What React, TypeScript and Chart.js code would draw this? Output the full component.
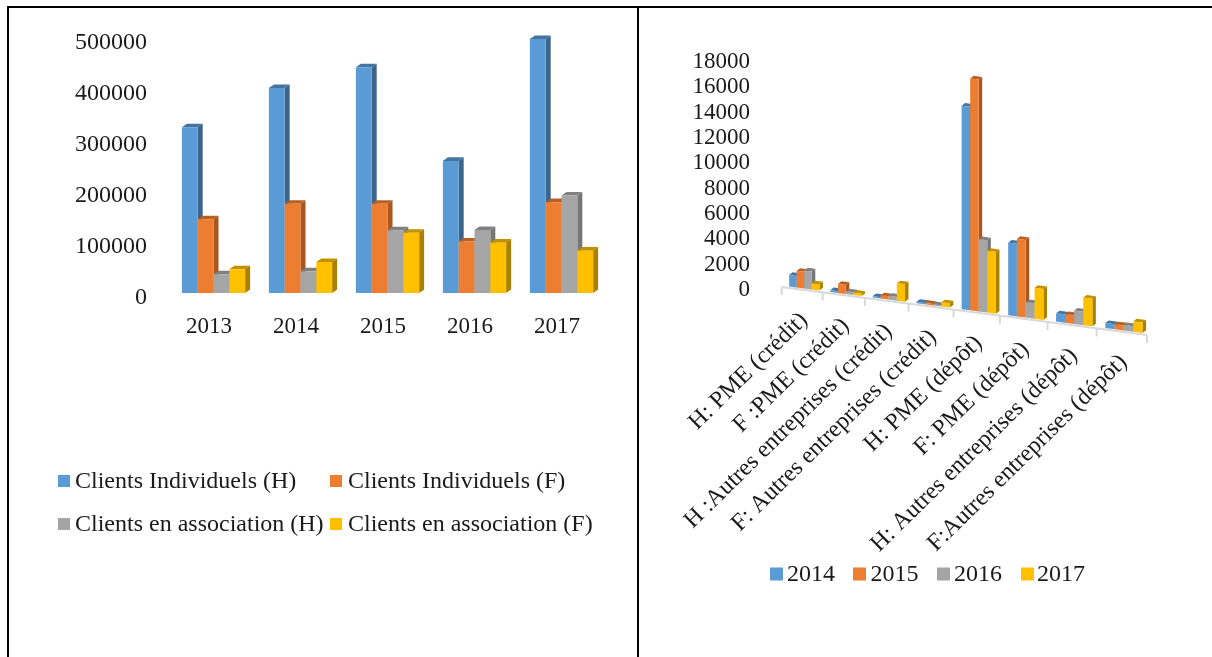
import React, { useEffect, useRef } from "react";
import { Chart, registerables } from "chart.js";

Chart.register(...registerables);

const FONT = "'Liberation Serif', 'Times New Roman', serif";
const TEXT = "#1a1a1a";

const BLUE = "#5b9bd5";
const ORANGE = "#ed7d31";
const GRAY = "#a5a5a5";
const YELLOW = "#ffc000";
const SIDES: Record<string, string> = { [BLUE]: "#3d658c", [ORANGE]: "#a9571f", [GRAY]: "#767676", [YELLOW]: "#a98000" };
const TOPS: Record<string, string> = { [BLUE]: "#44749f", [ORANGE]: "#b85f24", [GRAY]: "#808080", [YELLOW]: "#c29100" };

const leftYears = ["2013", "2014", "2015", "2016", "2017"];
const leftIndivH = [325000, 402000, 442500, 259000, 498000];
const leftIndivF = [144500, 175000, 175000, 101000, 178000];
const leftAssocH = [36700, 42500, 123000, 123500, 191000];
const leftAssocF = [46500, 60800, 118000, 98600, 83000];
const leftSeriesNames = [
  "Clients Individuels (H)",
  "Clients Individuels (F)",
  "Clients en association (H)",
  "Clients en association (F)",
];

const rightCategories = [
  "H: PME (crédit)",
  "F :PME (crédit)",
  "H :Autres entreprises (crédit)",
  "F: Autres entreprises (crédit)",
  "H: PME (dépôt)",
  "F: PME (dépôt)",
  "H: Autres entreprises (dépôt)",
  "F:Autres entreprises (dépôt)",
];
const right2014 = [909, 130, 100, 100, 14100, 4900, 540, 320];
const right2015 = [1300, 680, 240, 100, 15980, 5200, 560, 320];
const right2016 = [1400, 200, 270, 80, 4950, 1030, 870, 340];
const right2017 = [466, 170, 1260, 300, 4200, 2050, 1780, 650];
const rightSeriesNames = ["2014", "2015", "2016", "2017"];

type Mapper = (x: number, area: any) => { x: number; base: number; scale: number };

function drawBox(ctx: any, x1: any, x2: any, dx: number, dy: number, color: string) {
  ctx.fillStyle = TOPS[color];
  ctx.beginPath();
  ctx.moveTo(x1.x, x1.top);
  ctx.lineTo(x1.x + dx, x1.top - dy);
  ctx.lineTo(x2.x + dx, x2.top - dy);
  ctx.lineTo(x2.x, x2.top);
  ctx.closePath();
  ctx.fill();
  ctx.fillStyle = SIDES[color];
  ctx.beginPath();
  ctx.moveTo(x2.x, x2.top);
  ctx.lineTo(x2.x + dx, x2.top - dy);
  ctx.lineTo(x2.x + dx, x2.base - dy);
  ctx.lineTo(x2.x, x2.base);
  ctx.closePath();
  ctx.fill();
  ctx.fillStyle = color;
  ctx.beginPath();
  ctx.moveTo(x1.x, x1.top);
  ctx.lineTo(x2.x, x2.top);
  ctx.lineTo(x2.x, x2.base);
  ctx.lineTo(x1.x, x1.base);
  ctx.closePath();
  ctx.fill();
}

const bars3d = {
  id: "bars3d",
  beforeDatasetsDraw(chart: any, _a: any, opts: any) {
    const { ctx, chartArea } = chart;
    const map: Mapper = opts.map;
    const shift = opts.barShift || 0;
    const lift = opts.barLift || 0;
    ctx.save();
    if (opts.axis) {
      const n = chart.data.labels.length;
      const step = chartArea.width / n;
      ctx.strokeStyle = "#d9d9d9";
      ctx.lineWidth = 2;
      const a = map(chartArea.left, chartArea);
      const b = map(chartArea.right, chartArea);
      ctx.beginPath();
      ctx.moveTo(a.x, a.base);
      ctx.lineTo(b.x, b.base);
      for (let i = 0; i <= n; i++) {
        const t = map(chartArea.left + i * step, chartArea);
        ctx.moveTo(t.x, t.base);
        ctx.lineTo(t.x, t.base + 8);
      }
      ctx.stroke();
      ctx.fillStyle = TEXT;
      ctx.font = `${opts.axis.size}px ${FONT}`;
      ctx.textAlign = "right";
      ctx.textBaseline = "middle";
      chart.data.labels.forEach((label: string, i: number) => {
        const c = map(chartArea.left + (i + 0.5) * step, chartArea);
        ctx.save();
        ctx.translate(c.x + opts.axis.dx, c.base + opts.axis.dy);
        ctx.rotate((-opts.axis.angle * Math.PI) / 180);
        ctx.fillText(label, 0, 0);
        ctx.restore();
      });
    }
    const metas = chart.data.datasets.map((_: any, i: number) => chart.getDatasetMeta(i));
    const count = chart.data.labels.length;
    for (let c = 0; c < count; c++) {
      metas.forEach((meta: any, di: number) => {
        const el = meta.data[c];
        const color = chart.data.datasets[di].backgroundColor;
        const h = el.base - el.y;
        const a = map(el.x - el.width / 2, chartArea);
        const b = map(el.x + el.width / 2, chartArea);
        const mid = (a.scale + b.scale) / 2;
        drawBox(
          ctx,
          { x: a.x + shift, base: a.base - lift, top: a.base - lift - h * mid },
          { x: b.x + shift, base: b.base - lift, top: b.base - lift - h * mid },
          opts.dx,
          opts.dy,
          color
        );
      });
    }
    ctx.font = `${opts.legend.size}px ${FONT}`;
    ctx.textAlign = "left";
    ctx.textBaseline = "middle";
    opts.legend.items.forEach((it: any, i: number) => {
      const ds = chart.data.datasets[i];
      ctx.fillStyle = ds.backgroundColor;
      ctx.fillRect(it.x, it.y - opts.legend.box / 2, opts.legend.box, opts.legend.box);
      ctx.fillStyle = TEXT;
      ctx.fillText(ds.label, it.tx, it.y + 1);
    });
    ctx.restore();
    return false;
  },
};

const plainTick = (v: any) => String(v);

function leftConfig(): any {
  const colors = [BLUE, ORANGE, GRAY, YELLOW];
  const values = [leftIndivH, leftIndivF, leftAssocH, leftAssocF];
  return {
    type: "bar",
    data: {
      labels: leftYears,
      datasets: values.map((v, i) => ({
        label: leftSeriesNames[i],
        data: v,
        backgroundColor: colors[i],
        categoryPercentage: 0.727,
        barPercentage: 1,
      })),
    },
    plugins: [bars3d],
    options: {
      animation: false,
      responsive: false,
      layout: { padding: { left: 0, top: 38, right: 33, bottom: 0 } },
      plugins: {
        legend: { display: false },
        tooltip: { enabled: false },
        bars3d: {
          map: (x: number, area: any) => ({ x, base: area.bottom, scale: 1 }),
          dx: 5,
          dy: 3.6,
          legend: {
            size: 24,
            box: 12,
            items: [
              { x: 58, y: 481, tx: 75 },
              { x: 330, y: 481, tx: 348 },
              { x: 58, y: 524, tx: 75 },
              { x: 330, y: 524, tx: 348 },
            ],
          },
        },
      },
      scales: {
        x: {
          grid: { display: false },
          border: { display: false },
          afterFit: (s: any) => { s.height = 364; },
          ticks: { font: { family: FONT, size: 23 }, color: TEXT, padding: 12, labelOffset: -4.5, maxRotation: 0, minRotation: 0 },
        },
        y: {
          min: 0,
          max: 500000,
          grid: { display: false, drawTicks: false },
          border: { display: false },
          afterFit: (s: any) => { s.width = 170; },
          ticks: { stepSize: 100000, callback: plainTick, font: { family: FONT, size: 24 }, color: TEXT, padding: 23, labelOffset: 4.5 },
        },
      },
    },
  };
}

function rightConfig(): any {
  const colors = [BLUE, ORANGE, GRAY, YELLOW];
  const values = [right2014, right2015, right2016, right2017];
  const OX = 781.7 - 638;
  return {
    type: "bar",
    data: {
      labels: rightCategories,
      datasets: values.map((v, i) => ({
        label: rightSeriesNames[i],
        data: v,
        backgroundColor: colors[i],
        categoryPercentage: 0.74,
        barPercentage: 1,
      })),
    },
    plugins: [bars3d],
    options: {
      animation: false,
      responsive: false,
      layout: { padding: { left: 0, top: 60, right: 574 - (1147 - 638), bottom: 0 } },
      plugins: {
        legend: { display: false },
        tooltip: { enabled: false },
        bars3d: {
          map: (x: number, area: any) => {
            const u = (x - area.left) / (area.width / rightCategories.length);
            const px = OX + 40.24 * u + 0.678 * u * u;
            return { x: px, base: 287 + 0.1315 * (px - OX), scale: 1 + 0.033 * u };
          },
          barShift: 2.2,
          barLift: 1.2,
          dx: 3.5,
          dy: 2.6,
          axis: { size: 24, angle: 44.5, dx: 2, dy: 27 },
          legend: {
            size: 24,
            box: 13,
            items: [
              { x: 770 - 638, y: 574, tx: 787 - 638 },
              { x: 853 - 638, y: 574, tx: 870.5 - 638 },
              { x: 937 - 638, y: 574, tx: 954 - 638 },
              { x: 1021 - 638, y: 574, tx: 1037 - 638 },
            ],
          },
        },
      },
      scales: {
        x: {
          grid: { display: false },
          border: { display: false },
          afterFit: (s: any) => { s.height = 657 - 288; },
          ticks: { display: false },
        },
        y: {
          min: 0,
          max: 18000,
          grid: { display: false, drawTicks: false },
          border: { display: false },
          afterFit: (s: any) => { s.width = 781.7 - 638; },
          ticks: { stepSize: 2000, autoSkip: false, callback: plainTick, font: { family: FONT, size: 23 }, color: TEXT, padding: 31.7, labelOffset: 2 },
        },
      },
    },
  };
}

function Panel({ config, style, width }: { config: () => any; style: any; width: number }) {
  const ref = useRef<HTMLCanvasElement | null>(null);
  useEffect(() => {
    const chart = new Chart(ref.current as HTMLCanvasElement, config());
    return () => chart.destroy();
  }, [config]);
  return <canvas ref={ref} width={width} height={657} style={{ position: "absolute", top: 0, width, height: 657, ...style }} />;
}

const line = (s: any) => ({ position: "absolute", background: "#000", ...s });

export default function App() {
  return (
    <div style={{ position: "fixed", left: 0, top: 0, width: 1212, height: 657, background: "#fff", overflow: "hidden" }}>
      <Panel config={leftConfig} style={{ left: 0 }} width={638} />
      <Panel config={rightConfig} style={{ left: 638 }} width={574} />
      <div style={line({ left: 7, top: 6, width: 1205, height: 2 })} />
      <div style={line({ left: 7, top: 6, width: 2, height: 651 })} />
      <div style={line({ left: 637, top: 6, width: 2, height: 651 })} />
    </div>
  );
}
